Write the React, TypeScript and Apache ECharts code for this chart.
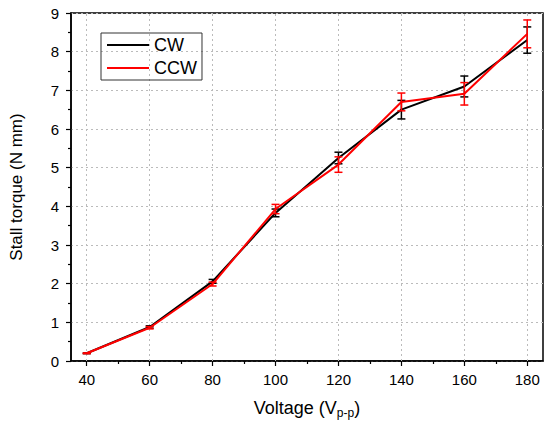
import React, { useEffect, useRef } from "react";
import * as echarts from "echarts";

const voltages = [40, 60, 80, 100, 120, 140, 160, 180];
const cwValues = [0.2, 0.88, 2.06, 3.83, 5.25, 6.5, 7.1, 8.3];
const cwErrors = [0.01, 0.03, 0.05, 0.1, 0.15, 0.24, 0.27, 0.34];
const ccwValues = [0.2, 0.86, 1.99, 3.93, 5.08, 6.7, 6.91, 8.46];
const ccwErrors = [0.01, 0.03, 0.05, 0.12, 0.2, 0.23, 0.29, 0.36];
const majorTicks = [40, 60, 80, 100, 120, 140, 160, 180];
const minorTicks = [50, 70, 90, 110, 130, 150, 170];

const FONT = "Liberation Sans, Arial, sans-serif";

function errRender(color: string) {
  return (params: any, api: any) => {
    const x = api.value(0);
    const y = api.value(1);
    const e = api.value(2);
    const top = api.coord([x, y + e]);
    const bot = api.coord([x, y - e]);
    const hw = 4;
    const style = { stroke: color, lineWidth: 1.5 };
    return {
      type: "group",
      children: [
        { type: "line", shape: { x1: top[0], y1: top[1], x2: bot[0], y2: bot[1] }, style },
        { type: "line", shape: { x1: top[0] - hw, y1: top[1], x2: top[0] + hw, y2: top[1] }, style },
        { type: "line", shape: { x1: bot[0] - hw, y1: bot[1], x2: bot[0] + hw, y2: bot[1] }, style },
      ],
    };
  };
}

export default function App() {
  const ref = useRef<HTMLDivElement>(null);
  useEffect(() => {
    document.body.style.margin = "0";
    const chart = echarts.init(ref.current!, null, { renderer: "svg" });
    const cwData = voltages.map((v, i) => [v, cwValues[i]]);
    const ccwData = voltages.map((v, i) => [v, ccwValues[i]]);
    const cwErr = voltages.map((v, i) => [v, cwValues[i], cwErrors[i]]);
    const ccwErr = voltages.map((v, i) => [v, ccwValues[i], ccwErrors[i]]);
    chart.setOption({
      animation: false,
      backgroundColor: "#fff",
      textStyle: { fontFamily: FONT },
      grid: {
        left: 70,
        right: 7,
        top: 13,
        bottom: 69,
        show: true,
        borderColor: "#000",
        borderWidth: 1.5,
        backgroundColor: "transparent",
      },
      legend: {
        orient: "vertical",
        left: 101,
        top: 33,
        data: ["CW", "CCW"],
        icon: "rect",
        itemWidth: 42,
        itemHeight: 2,
        itemGap: 3,
        padding: [2, 5, 2, 6],
        borderColor: "#333",
        borderWidth: 1,
        textStyle: { fontSize: 18, lineHeight: 20, color: "#000", fontFamily: FONT },
      },
      xAxis: [
        {
          type: "value",
          min: 35,
          max: 185,
          position: "bottom",
          name: "Voltage (V{sub|p-p})",
          nameLocation: "middle",
          nameGap: 36,
          nameTextStyle: {
            fontSize: 18,
            color: "#000",
            fontFamily: FONT,
            rich: { sub: { fontSize: 12, verticalAlign: "bottom", padding: [10, 0, 0, 0], color: "#000", fontFamily: FONT } },
          },
          axisLine: { show: true, lineStyle: { color: "#000", width: 1.5 } },
          axisTick: { show: true, customValues: majorTicks, length: 5, lineStyle: { color: "#000", width: 1.2 } },
          axisLabel: { show: true, customValues: majorTicks, fontSize: 15, color: "#000", margin: 11, fontFamily: FONT },
          splitLine: { show: false },
        },
        {
          type: "value",
          min: 35,
          max: 185,
          position: "bottom",
          axisLine: { show: false },
          axisTick: { show: true, customValues: minorTicks, length: 3, lineStyle: { color: "#000", width: 1.2 } },
          axisLabel: { show: false },
          splitLine: { show: false },
        },
      ],
      yAxis: {
        type: "value",
        min: 0,
        max: 9,
        interval: 1,
        name: "Stall torque (N mm)",
        nameLocation: "middle",
        nameGap: 46,
        nameTextStyle: { fontSize: 17, color: "#000", fontFamily: FONT },
        axisLine: { show: true, lineStyle: { color: "#000", width: 1.5 } },
        axisTick: { show: true, length: 5, lineStyle: { color: "#000", width: 1.2 } },
        minorTick: { show: true, splitNumber: 2, length: 3, lineStyle: { color: "#000", width: 1.2 } },
        axisLabel: { fontSize: 15, color: "#000", margin: 12, fontFamily: FONT },
        splitLine: { show: true, lineStyle: { color: "#bbb", type: [2, 3], width: 1 } },
      },
      series: [
        {
          name: "CW",
          type: "line",
          data: cwData,
          symbol: "none",
          lineStyle: { color: "#000", width: 2 },
          itemStyle: { color: "#000" },
          z: 3,
          markLine: {
            silent: true,
            symbol: "none",
            label: { show: false },
            lineStyle: { color: "#bbb", type: [2, 3], width: 1 },
            data: majorTicks.map((v) => ({ xAxis: v })),
            z: 1,
          },
        },
        {
          name: "CW err",
          type: "custom",
          data: cwErr,
          renderItem: errRender("#000"),
          z: 4,
        },
        {
          name: "CCW",
          type: "line",
          data: ccwData,
          symbol: "none",
          lineStyle: { color: "#ff0000", width: 2 },
          itemStyle: { color: "#ff0000" },
          z: 5,
        },
        {
          name: "CCW err",
          type: "custom",
          data: ccwErr,
          renderItem: errRender("#ff0000"),
          z: 6,
        },
      ],
    });
    return () => chart.dispose();
  }, []);
  return <div ref={ref} style={{ width: 550, height: 430 }} />;
}
